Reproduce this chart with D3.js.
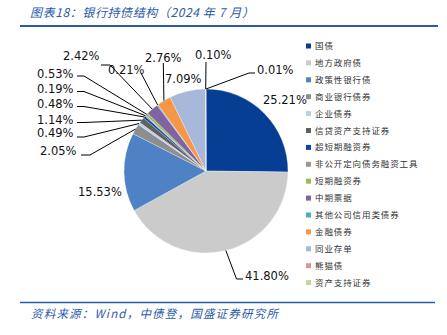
<!DOCTYPE html>
<html><head><meta charset="utf-8">
<script src="https://cdn.jsdelivr.net/npm/d3@7"></script>
<style>
html,body{margin:0;padding:0;background:#fff;}
svg{display:block;}
</style></head>
<body>
<svg id="chart" width="447" height="335"></svg>
<script>
const categories = ["国债","地方政府债","政策性银行债","商业银行债券","企业债券","信贷资产支持证券","超短期融资券","非公开定向债务融资工具","短期融资券","中期票据","其他公司信用类债券","金融债券","同业存单","熊猫债","资产支持证券"];
const values = [25.21,41.80,15.53,2.05,0.49,1.14,0.48,0.19,0.53,2.42,0.21,2.76,7.09,0.10,0.01];
const colors = ["#053E93","#CBCBCB","#4E82C4","#8E8E8E","#BDD0EA","#606060","#0846A8","#989898","#9BBB59","#8064A2","#4BACC6","#F79646","#A8B8DA","#D99694","#C3D69B"];
const titleText = "图表18：银行持债结构（2024 年 7 月）";
const sourceText = "资料来源：Wind，中债登，国盛证券研究所";

// label layout: text left x, text centre y, leader elbow & end (null = no leader)
const labelLayout = [
  {x:263,y:100,elbow:null},
  {x:245,y:276,elbow:[236.5,279],end:[243,279]},
  {x:78,y:192,elbow:null},
  {x:40,y:151,elbow:[90,155],end:[81,155]},
  {x:37,y:133,elbow:[84,137],end:[77,137]},
  {x:37,y:120,elbow:[84,122.5],end:[77,122.5]},
  {x:37,y:104,elbow:[84,106.5],end:[77,106.5]},
  {x:37,y:89,elbow:[84,91.5],end:[77,91.5]},
  {x:37,y:73.5,elbow:[84,76],end:[77,76]},
  {x:63,y:56,elbow:[110,65],end:[101,65]},
  {x:108,y:70,elbow:[141,73],end:[141,73]},
  {x:145,y:58,elbow:[163.3,63],end:[163.3,63]},
  {x:165,y:79,elbow:null},
  {x:195,y:55,elbow:[206,62],end:[206,62]},
  {x:257,y:70,elbow:[249,73],end:[255,73]}
];

const svg = d3.select("#chart");
const blue = "#2A5BA8";

// title
svg.append("text").attr("x",30).attr("y",17)
  .attr("font-family","'Noto Sans CJK SC', sans-serif").attr("font-size",12)
  .attr("letter-spacing","0.6px")
  .attr("font-style","italic").attr("fill",blue).text(titleText);
svg.append("line").attr("x1",20).attr("x2",438).attr("y1",26).attr("y2",26)
  .attr("stroke",blue).attr("stroke-width",2);

// footer
svg.append("line").attr("x1",20).attr("x2",435).attr("y1",302.5).attr("y2",302.5)
  .attr("stroke",blue).attr("stroke-width",1.5);
svg.append("text").attr("x",31).attr("y",318)
  .attr("font-family","'Noto Sans CJK SC', sans-serif").attr("font-size",11.5)
  .attr("letter-spacing","1.2px")
  .attr("font-style","italic").attr("fill",blue).text(sourceText);

// pie
const cx = 206, cy = 171, r = 82;
const data = categories.map((c,i)=>({cat:c,value:values[i],i:i}));
const pie = d3.pie().value(d=>d.value).sort(null);
const arcs = pie(data);
const arc = d3.arc().innerRadius(0).outerRadius(r);
const g = svg.append("g").attr("transform",`translate(${cx},${cy})`);
g.selectAll("path").data(arcs).enter().append("path")
  .attr("d",arc).attr("fill",d=>colors[d.data.i])
  .attr("stroke","#fff").attr("stroke-width",0.3);

// leaders
arcs.forEach((a,i)=>{
  const L = labelLayout[i];
  if(L.elbow){
    const m = (a.startAngle+a.endAngle)/2;
    const p = [cx + r*Math.sin(m), cy - r*Math.cos(m)];
    svg.append("polyline")
      .attr("points",[p,L.elbow,L.end].map(q=>q.join(",")).join(" "))
      .attr("fill","none").attr("stroke","#000").attr("stroke-width",1);
  }
});
// labels
arcs.forEach((a,i)=>{
  const L = labelLayout[i];
  svg.append("text").attr("x",L.x).attr("y",L.y).attr("dy","0.36em")
    .attr("font-family","'DejaVu Sans', sans-serif").attr("font-size",11.5)
    .attr("fill","#111").text(d3.format(".2f")(a.data.value)+"%");
});

// legend
const lg = svg.append("g");
const ly0 = 46, lstep = 16.9;
categories.forEach((c,i)=>{
  const y = ly0 + i*lstep;
  lg.append("rect").attr("x",306).attr("y",y-2.5).attr("width",5).attr("height",5).attr("fill",colors[i]);
  lg.append("text").attr("x",315).attr("y",y).attr("dy","0.36em")
    .attr("font-family","'Noto Sans CJK SC', sans-serif").attr("font-size",8.5)
    .attr("letter-spacing","0.9px").attr("fill","#333").text(c);
});
</script>
</body></html>
